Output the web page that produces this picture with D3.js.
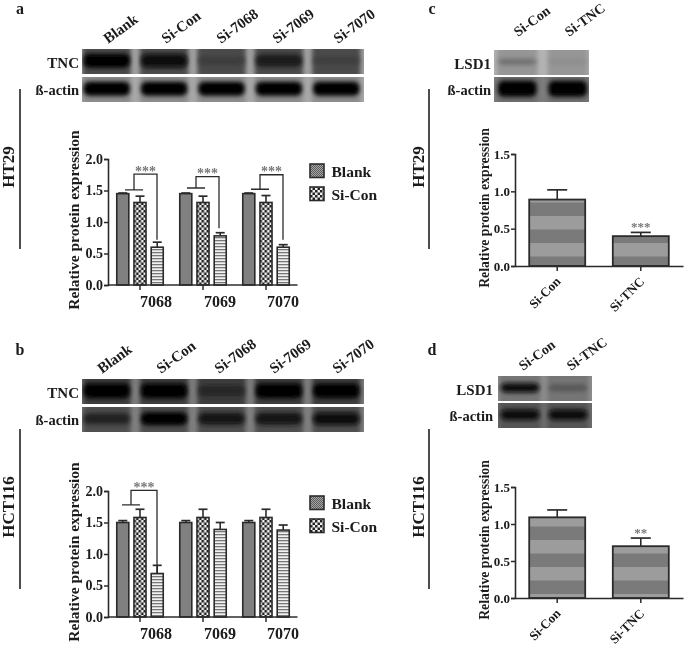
<!DOCTYPE html>
<html><head><meta charset="utf-8">
<script src="https://cdn.jsdelivr.net/npm/d3@7/dist/d3.min.js"></script>
<style>html,body{margin:0;padding:0;background:#fff}svg{display:block}
text{font-family:"Liberation Serif","Times New Roman",serif;font-weight:bold;fill:#1a1a1a}</style>
</head><body><svg id="c" width="685" height="649"></svg>
<script>
// ---------- data ----------
const groups = ["7068","7069","7070"];
const series = ["Blank","Si-Con","Si-70xx"];
const legendLabels = ["Blank","Si-Con"];
const lanesTNC = ["Blank","Si-Con","Si-7068","Si-7069","Si-7070"];
const lanesLSD = ["Si-Con","Si-TNC"];
const aValues = [[1.45,1.31,0.60],[1.45,1.31,0.78],[1.45,1.31,0.60]];
const aErrors = [[0.01,0.10,0.08],[0.01,0.10,0.05],[0.01,0.11,0.04]];
const bValues = [[1.50,1.58,0.69],[1.50,1.58,1.39],[1.50,1.58,1.38]];
const bErrors = [[0.03,0.13,0.13],[0.03,0.13,0.11],[0.03,0.13,0.08]];
const cValues = [0.89,0.40], cErrors = [0.13,0.05];
const dValues = [1.09,0.70], dErrors = [0.10,0.11];
const groupTicks = [0,0.5,1.0,1.5,2.0];
const singleTicks = [0,0.5,1.0,1.5];
// blot band darkness per lane: 0 = background, 1 = black
const aBlotTNC = [1,0.95,0.45,0.8,0.4], aBlotActin = [1,1,1,1,1];
const bBlotTNC = [1,1,0.6,1,0.95], bBlotActin = [0.75,1,0.85,0.85,0.95];
const cBlotLSD = [0.5,0.25], cBlotActin = [1,1];
const dBlotLSD = [0.95,0.5], dBlotActin = [0.95,0.95];

// ---------- setup ----------
const svg = d3.select("#c");
const defs = svg.append("defs");
const ink = "#2b2b2b";
defs.append("filter").attr("id","soft").attr("x","-5%").attr("y","-5%").attr("width","110%").attr("height","110%")
  .append("feGaussianBlur").attr("stdDeviation",0.45);
defs.append("filter").attr("id","band").attr("x","-30%").attr("y","-80%").attr("width","160%").attr("height","260%")
  .append("feGaussianBlur").attr("stdDeviation",2);
defs.append("filter").attr("id","smear").attr("x","-30%").attr("y","-30%").attr("width","160%").attr("height","160%")
  .append("feGaussianBlur").attr("stdDeviation",2);

function pat(id,w,h,bg,draw){
  const p = defs.append("pattern").attr("id",id).attr("patternUnits","userSpaceOnUse").attr("width",w).attr("height",h);
  p.append("rect").attr("width",w).attr("height",h).attr("fill",bg);
  draw(p);
}
pat("pBlank",2,2,"#a5a5a5",p=>{p.append("rect").attr("width",1).attr("height",1).attr("fill","#5c5c5c");p.append("rect").attr("x",1).attr("y",1).attr("width",1).attr("height",1).attr("fill","#5c5c5c");});
pat("pCheck",5,5,"#efefef",p=>{p.append("rect").attr("width",2.5).attr("height",2.5).attr("fill","#222");p.append("rect").attr("x",2.5).attr("y",2.5).attr("width",2.5).attr("height",2.5).attr("fill","#222");});
pat("pStripe",4,3,"#f2f2f2",p=>{p.append("rect").attr("width",4).attr("height",1.3).attr("fill","#777");});
pat("pWide",4,27,"#9c9c9c",p=>{p.append("rect").attr("y",13.5).attr("width",4).attr("height",13.5).attr("fill","#7a7a7a");});
const fills = ["url(#pBlank)","url(#pCheck)","url(#pStripe)"];

const root = svg.append("g").attr("filter","url(#soft)");

function styleAxis(g){
  g.selectAll("path,line").attr("stroke",ink).attr("stroke-width",1.5);
  g.select(".domain").attr("stroke-width",1.6);
}
function rotLabel(x,y,txt,size){
  root.append("text").attr("transform",`translate(${x},${y}) rotate(-90)`).attr("text-anchor","middle")
    .attr("font-size",size).text(txt);
}
function errorBar(g,x,top,bottom,cap){
  g.append("line").attr("x1",x).attr("x2",x).attr("y1",top).attr("y2",bottom).attr("stroke",ink).attr("stroke-width",1.6);
  g.append("line").attr("x1",x-cap).attr("x2",x+cap).attr("y1",top).attr("y2",top).attr("stroke",ink).attr("stroke-width",1.7);
}

function blot(cfg){
  const lane = d3.scaleBand().domain(cfg.lanes).range(cfg.laneRange);
  const w = lane.bandwidth()*cfg.bw;
  [[cfg.rowA,cfg.top,cfg.bgA,cfg.hA,cfg.smearA],[cfg.rowB,cfg.top2,cfg.bgB,cfg.hB,cfg.smearB]].forEach(([vals,y,bg,bh,smear])=>{
    const clip = "clip"+cfg.id+y;
    defs.append("clipPath").attr("id",clip).append("rect").attr("x",cfg.x0).attr("y",y).attr("width",cfg.x1-cfg.x0).attr("height",cfg.h);
    const g = root.append("g").attr("clip-path",`url(#${clip})`);
    g.append("rect").attr("x",cfg.x0).attr("y",y).attr("width",cfg.x1-cfg.x0).attr("height",cfg.h).attr("fill",bg);
    const cx = i=>lane(cfg.lanes[i])+lane.bandwidth()/2;
    g.selectAll("rect.s").data(vals).join("rect").attr("class","s")
      .attr("x",(d,i)=>cx(i)-w/2).attr("width",w).attr("y",y-4).attr("height",cfg.h+8)
      .attr("fill",smear).attr("filter","url(#smear)");
    g.selectAll("rect.b").data(vals).join("rect").attr("class","b")
      .attr("x",(d,i)=>cx(i)-w/2+1).attr("width",w-2)
      .attr("y",d=>y+cfg.h*0.47-bh*(0.45+0.55*d)).attr("height",d=>2*bh*(0.45+0.55*d))
      .attr("rx",6).attr("ry",5)
      .attr("fill",d=>d3.interpolateRgb(smear,"#000")(d*d))
      .attr("filter","url(#band)");
  });
  root.append("text").attr("x",cfg.x0-cfg.labelGap).attr("y",cfg.top+cfg.h*0.5+6).attr("text-anchor","end").attr("font-size",15).text(cfg.nameA);
  root.append("text").attr("x",cfg.x0-cfg.labelGap).attr("y",cfg.top2+cfg.h*0.5+5).attr("text-anchor","end").attr("font-size",14.5).text("ß-actin");
  cfg.lanes.forEach((l,i)=>{
    root.append("text").attr("transform",`translate(${cfg.starts[i]},${cfg.startY}) rotate(-36)`).attr("font-size",cfg.labelFont||15).text(l);
  });
}

function groupedChart(cfg){
  const g = root.append("g");
  const y = d3.scaleLinear().domain([0,2]).range(cfg.yRange);
  const x0 = d3.scaleBand().domain(groups).range(cfg.xRange);
  const x1 = d3.scaleBand().domain(series).range([0,x0.bandwidth()]).paddingInner(0.3).paddingOuter(0.48);
  const cols = g.selectAll("g.grp").data(groups).join("g").attr("class","grp").attr("transform",d=>`translate(${x0(d)},0)`);
  cols.each(function(gn,gi){
    const c = d3.select(this);
    series.forEach((s,si)=>{
      const v = cfg.values[gi][si], e = cfg.errors[gi][si];
      errorBar(c,x1(s)+x1.bandwidth()/2,y(v+e),y(v),4.5);
      c.append("rect").attr("x",x1(s)).attr("y",y(v)).attr("width",x1.bandwidth()).attr("height",y(0)-y(v))
        .attr("fill",fills[si]).attr("stroke",ink).attr("stroke-width",1.6);
    });
  });
  const ax = g.append("g").attr("transform",`translate(${cfg.yAxisX},0)`)
    .call(d3.axisLeft(y).tickValues(groupTicks).tickFormat(d3.format(".1f")).tickSize(4).tickPadding(1));
  ax.selectAll("text").attr("font-size",14).style("font-family","Liberation Serif").attr("font-weight","bold");
  styleAxis(ax);
  const bx = g.append("g").attr("transform",`translate(0,${y(0)})`)
    .call(d3.axisBottom(x0).tickSize(5).tickSizeOuter(0).tickPadding(6));
  bx.select(".domain").attr("d",`M${cfg.yAxisX},0H${cfg.xRange[1]}`);
  bx.selectAll("text").attr("font-size",16).attr("dx",(d,i)=>[16,17,17][i]).style("font-family","Liberation Serif").attr("font-weight","bold");
  styleAxis(bx);
  cfg.brackets.forEach(b=>{
    const cx = x0(b.group)+x0.bandwidth()/2;
    const px = d=>cx+d;
    g.append("path").attr("fill","none").attr("stroke",ink).attr("stroke-width",1.3)
      .attr("d",`M${px(b.l)},${y(b.base)}H${px(b.l+b.w)}M${px(b.v)},${y(b.base)}V${y(b.top)}H${px(b.r)}V${y(b.end)}`);
    g.append("text").attr("x",(px(b.v)+px(b.r))/2).attr("y",y(b.top)+1.5).attr("text-anchor","middle")
      .attr("font-size",14).style("fill","#777").text("***");
  });
  rotLabel(cfg.yLabelX,cfg.yLabelY,"Relative protein expression",15.5);
  legendLabels.forEach((l,i)=>{
    const ly = cfg.legendY+i*cfg.legendStep;
    g.append("rect").attr("x",310).attr("y",ly).attr("width",14).attr("height",13.5).attr("fill",fills[i]).attr("stroke",ink).attr("stroke-width",1.6);
    g.append("text").attr("x",331.5).attr("y",ly+13).attr("font-size",15.5).text(l);
  });
}

function singleChart(cfg){
  const g = root.append("g");
  const y = d3.scaleLinear().domain([0,1.5]).range(cfg.yRange);
  const x = d3.scaleBand().domain(lanesLSD).range(cfg.xRange).paddingInner(0.33).paddingOuter(0.17);
  lanesLSD.forEach((s,i)=>{
    const v = cfg.values[i], e = cfg.errors[i], cx = x(s)+x.bandwidth()/2;
    errorBar(g,cx,y(v+e),y(v),10);
    g.append("rect").attr("x",x(s)).attr("y",y(v)).attr("width",x.bandwidth()).attr("height",y(0)-y(v))
      .attr("fill","url(#pWide)").attr("stroke",ink).attr("stroke-width",1.8);
  });
  const ax = g.append("g").attr("transform",`translate(${cfg.xRange[0]},0)`)
    .call(d3.axisLeft(y).tickValues(singleTicks).tickFormat(d3.format(".1f")).tickSize(4).tickPadding(1));
  ax.selectAll("text").attr("font-size",13).style("font-family","Liberation Serif").attr("font-weight","bold");
  styleAxis(ax);
  const bx = g.append("g").attr("transform",`translate(0,${y(0)})`)
    .call(d3.axisBottom(x).tickSize(5).tickSizeOuter(0));
  bx.selectAll("text").attr("font-size",13).attr("text-anchor","end")
    .attr("transform","translate(-6,6) rotate(-45)").attr("dy","0.5em").style("font-family","Liberation Serif").attr("font-weight","bold");
  styleAxis(bx);
  const i2 = lanesLSD[1];
  g.append("text").attr("x",x(i2)+x.bandwidth()/2).attr("y",y(cfg.values[1]+cfg.errors[1])-1).attr("text-anchor","middle")
    .attr("font-size",13).style("fill","#777").text(cfg.stars);
  rotLabel(cfg.yLabelX,cfg.yLabelY,"Relative protein expression",13.8);
}

// ---------- panels ----------
[["a",20,14],["b",20,355],["c",432,14],["d",432,355]].forEach(([t,x,yy])=>{
  root.append("text").attr("x",x).attr("y",yy).attr("text-anchor","middle").attr("font-size",16).text(t);
});
[[20,89,249,14,167,"HT29"],[20,429,589,14,507,"HCT116"],[429,89,249,424,167,"HT29"],[429,429,589,424,507,"HCT116"]].forEach(([x,a,b,tx,ty,t])=>{
  root.append("line").attr("x1",x).attr("x2",x).attr("y1",a).attr("y2",b).attr("stroke","#222").attr("stroke-width",1.6);
  root.append("text").attr("transform",`translate(${tx},${ty}) rotate(-90)`).attr("text-anchor","middle").attr("font-size",17).text(t);
});

blot({id:"a",lanes:lanesTNC,rowA:aBlotTNC,rowB:aBlotActin,x0:82,x1:364,laneRange:[78,365],top:49,top2:77,h:25,bgA:"#a0a0a0",bgB:"#a8a8a8",smearA:"#4c4c4c",smearB:"#8c8c8c",hA:7,hB:7,bw:0.84,nameA:"TNC",labelGap:3,
  starts:[108,166,221,277,338],startY:44});
groupedChart({values:aValues,errors:aErrors,yRange:[285,159],xRange:[108.5,297.5],yAxisX:108,yLabelX:79,yLabelY:220,legendY:164,legendStep:23,
  brackets:[{group:"7068",l:-15,w:18,v:-6,r:17,top:1.76,base:1.51,end:0.72},{group:"7069",l:-16,w:18,v:-7,r:16,top:1.72,base:1.54,end:0.9},{group:"7070",l:-15,w:18,v:-6,r:17,top:1.75,base:1.52,end:0.72}]});

blot({id:"b",lanes:lanesTNC,rowA:bBlotTNC,rowB:bBlotActin,x0:82,x1:364,laneRange:[78,365],top:379,top2:407,h:25,bgA:"#7c7c7c",bgB:"#808080",smearA:"#3e3e3e",smearB:"#505050",hA:7.5,hB:6.5,bw:0.84,nameA:"TNC",labelGap:3,
  starts:[102,161,219,274,337],startY:374});
groupedChart({values:bValues,errors:bErrors,yRange:[617,491],xRange:[108.5,297.5],yAxisX:108,yLabelX:79,yLabelY:552,legendY:496,legendStep:23,
  brackets:[{group:"7068",l:-18,w:18,v:-9,r:17,top:2.01,base:1.78,end:0.69}]});

blot({id:"c",lanes:lanesLSD,rowA:cBlotLSD,rowB:cBlotActin,x0:494,x1:589,laneRange:[492,593],top:50,top2:77,h:25,bgA:"#b4b4b4",bgB:"#7c7c7c",smearA:"#969696",smearB:"#6e6e6e",hA:4.5,hB:8,bw:0.8,nameA:"LSD1",labelGap:3,
  starts:[518,569],startY:37,labelFont:14});
singleChart({values:cValues,errors:cErrors,yRange:[266,154],xRange:[515,683],yLabelX:489,yLabelY:208,stars:"***"});

blot({id:"d",lanes:lanesLSD,rowA:dBlotLSD,rowB:dBlotActin,x0:498,x1:592,laneRange:[496,592],top:376,top2:403,h:25,bgA:"#8c8c8c",bgB:"#6c6c6c",smearA:"#757575",smearB:"#555555",hA:5,hB:5.5,bw:0.85,nameA:"LSD1",labelGap:5,
  starts:[523,571],startY:371,labelFont:14});
singleChart({values:dValues,errors:dErrors,yRange:[598,487],xRange:[515,683],yLabelX:489,yLabelY:540,stars:"**"});
</script></body></html>
